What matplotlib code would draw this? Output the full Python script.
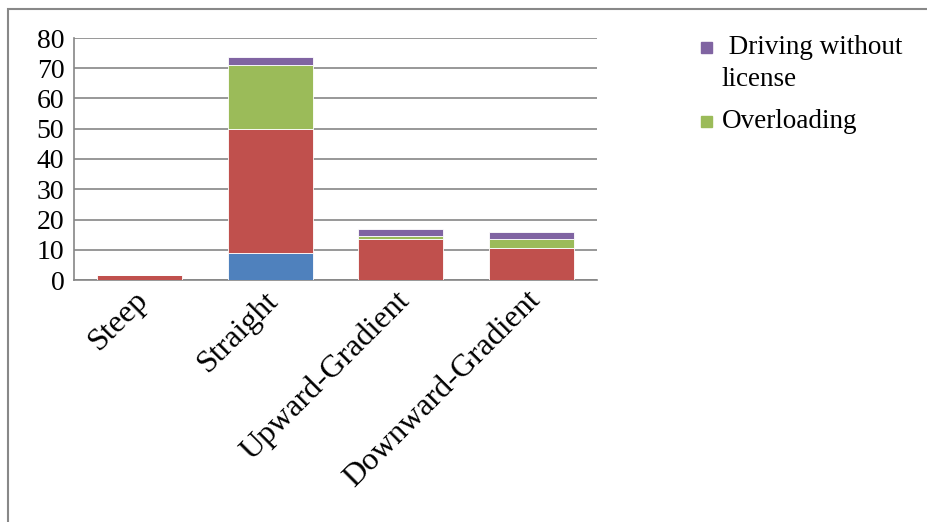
import numpy as np
import matplotlib.pyplot as plt
import matplotlib.transforms as mtransforms
from matplotlib.patches import Rectangle

plt.rcParams['font.family'] = ['Liberation Serif', 'DejaVu Serif']

categories = ['Steep', 'Straight', 'Upward-Gradient', 'Downward-Gradient']
series_names = ['Over speeding', 'Careless driving', 'Overloading', 'Driving without license']
blue_vals = [0, 9, 0, 0]
red_vals = [1.5, 41, 13.5, 10.7]
green_vals = [0, 21, 1.1, 2.7]
purple_vals = [0, 2.6, 2.2, 2.6]
colors = ['#4F81BD', '#C0504D', '#9BBB59', '#8064A2']
yticks = [0, 10, 20, 30, 40, 50, 60, 70, 80]

W, H = 927, 522
fig = plt.figure(figsize=(W / 100, H / 100), dpi=100)
ax = fig.add_axes([74 / W, 1 - 280 / H, (597 - 74) / W, (280 - 38) / H])

x = np.arange(len(categories))
bottom = np.zeros(len(categories))
for vals, col, name in zip([blue_vals, red_vals, green_vals, purple_vals], colors, series_names):
    ax.bar(x, vals, 0.65, bottom=bottom, color=col, label=name,
           edgecolor='white', linewidth=0.6, zorder=3)
    bottom = bottom + np.array(vals)

ax.set_xlim(-0.5, 3.5)
ax.set_ylim(0, 80)
ax.set_yticks(yticks)
ax.yaxis.grid(True, color='#868686', linewidth=1.2, zorder=0)
ax.set_axisbelow(True)
for s in ['top', 'right']:
    ax.spines[s].set_visible(False)
for s in ['left', 'bottom']:
    ax.spines[s].set_color('#868686')
    ax.spines[s].set_linewidth(1.2)
ax.tick_params(axis='y', length=0, labelsize=20, pad=7)
ax.tick_params(axis='x', length=0, labelsize=23, pad=4)
ax.set_xticks(x)
ax.set_xticklabels(categories, rotation=45, ha='right', rotation_mode='anchor')
shift = mtransforms.ScaledTranslation(-6 / 100, 0, fig.dpi_scale_trans)
for lab in ax.get_xticklabels():
    lab.set_transform(lab.get_transform() + shift)

# legend (only the two visible entries, drawn like the original)
fs = 19.5
fig.patches.append(Rectangle((701 / W, 1 - 53 / H), 11 / W, 11 / H, transform=fig.transFigure,
                             color=colors[3]))
fig.text(722 / W, 1 - 48 / H, ' Driving without', fontsize=fs, va='center')
fig.text(722 / W, 1 - 80 / H, 'license', fontsize=fs, va='center')
fig.patches.append(Rectangle((701 / W, 1 - 127 / H), 11 / W, 11 / H, transform=fig.transFigure,
                             color=colors[2]))
fig.text(722 / W, 1 - 122 / H, 'Overloading', fontsize=fs, va='center')

# outer chart frame
fig.patches.append(Rectangle((8 / W, -0.1), 1.1, 1.1 - 9 / H, transform=fig.transFigure,
                             fill=False, edgecolor='#888888', linewidth=1.5))

fig.savefig('out.png', dpi=100)
